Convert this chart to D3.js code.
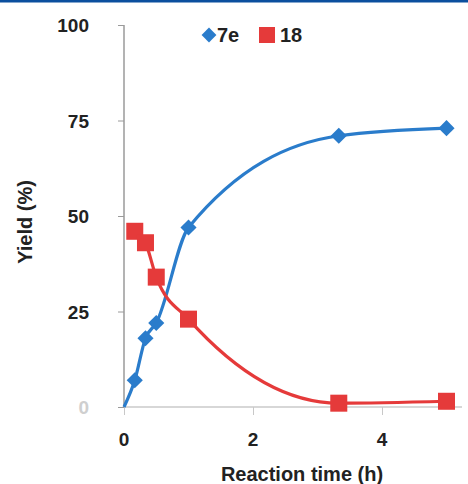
<!DOCTYPE html>
<html><head><meta charset="utf-8">
<script src="https://cdn.jsdelivr.net/npm/d3@7"></script>
<style>body{margin:0;background:#fff}svg{display:block}</style>
</head><body>
<svg id="c" width="468" height="484"></svg>
<script>
const series = ["7e", "18"];
const times7e = [0.167, 0.333, 0.5, 1, 3.33, 5];
const yield7e = [7, 18, 22, 47, 71, 73];
const times18 = [0.167, 0.333, 0.5, 1, 3.33, 5];
const yield18 = [46, 43, 34, 23, 1, 1.5];
const curveStart7e = [[0, 0]];
const yTicks = [0, 25, 50, 75, 100];
const xTicks = [0, 2, 4];
const colors = ["#2a7ccb", "#e53a3a"];

const FONT = "Liberation Sans, Arial, sans-serif";
const svg = d3.select("#c");
svg.append("rect").attr("x",0).attr("y",0).attr("width",468).attr("height",2.5).attr("fill","#0b4f9e");

const x = d3.scaleLinear().domain([0, 5]).range([124, 446.5]);
const y = d3.scaleLinear().domain([0, 100]).range([407, 25]);

// axes
const yAxis = svg.append("g").attr("transform","translate(124,0)")
  .call(d3.axisLeft(y).tickValues(yTicks).tickSize(6).tickFormat(""));
yAxis.select(".domain").attr("stroke","#9a9a9a").attr("stroke-width",1.5).attr("d","M0,25V407");
yAxis.selectAll(".tick line").attr("stroke","#9a9a9a");
const xAxis = svg.append("g").attr("transform","translate(0,407)")
  .call(d3.axisBottom(x).tickValues(xTicks).tickSize(8).tickFormat(""));
xAxis.select(".domain").attr("stroke","#b0b0b0").attr("stroke-width",1.2).attr("d","M124,0H462");
xAxis.selectAll(".tick line").attr("stroke","#c8c8c8");

svg.append("g").selectAll("text").data(yTicks).join("text")
  .attr("x",89).attr("y",d=>y(d)+7).attr("text-anchor","end")
  .attr("font-family",FONT).attr("font-size",19).attr("font-weight","bold")
  .attr("fill",d=>d===0?"#cfcfcf":"#222").text(d=>d);
svg.append("g").selectAll("text").data(xTicks).join("text")
  .attr("x",d=>x(d)).attr("y",446).attr("text-anchor","middle")
  .attr("font-family",FONT).attr("font-size",19).attr("font-weight","bold")
  .attr("fill","#222").text(d=>d);

svg.append("text").attr("x",302).attr("y",481).attr("text-anchor","middle")
  .attr("font-family",FONT).attr("font-size",20).attr("font-weight","bold")
  .attr("fill","#222").text("Reaction time (h)");
svg.append("text").attr("transform","translate(32,222) rotate(-90)").attr("text-anchor","middle")
  .attr("font-family",FONT).attr("font-size",20).attr("font-weight","bold")
  .attr("fill","#222").text("Yield (%)");

const line = d3.line().x(d=>x(d[0])).y(d=>y(d[1])).curve(d3.curveMonotoneX);
const pts7e = curveStart7e.concat(times7e.map((t,i)=>[t, yield7e[i]]));
const pts18 = times18.map((t,i)=>[t, yield18[i]]);

svg.append("path").attr("d", line(pts7e)).attr("fill","none").attr("stroke",colors[0]).attr("stroke-width",3.2);
svg.append("path").attr("d", line(pts18)).attr("fill","none").attr("stroke",colors[1]).attr("stroke-width",3.2);

svg.append("g").selectAll("path").data(times7e.map((t,i)=>[t,yield7e[i]])).join("path")
  .attr("d", d3.symbol().type(d3.symbolSquare).size(130))
  .attr("transform", d=>`translate(${x(d[0])},${y(d[1])}) rotate(45)`).attr("fill",colors[0]);
svg.append("g").selectAll("rect").data(pts18).join("rect")
  .attr("x", d=>x(d[0])-8.5).attr("y", d=>y(d[1])-8.5).attr("width",17).attr("height",17)
  .attr("fill",colors[1]);

// legend
const lg = svg.append("g");
lg.append("path").attr("d", d3.symbol().type(d3.symbolSquare).size(110)())
  .attr("transform","translate(209,35) rotate(45)").attr("fill",colors[0]);
lg.append("text").attr("x",217).attr("y",42).attr("font-family",FONT)
  .attr("font-size",20).attr("font-weight","bold").attr("fill","#222").text(series[0]);
lg.append("rect").attr("x",259).attr("y",27).attr("width",16).attr("height",16).attr("fill",colors[1]);
lg.append("text").attr("x",280).attr("y",42).attr("font-family",FONT)
  .attr("font-size",20).attr("font-weight","bold").attr("fill","#222").text(series[1]);
</script>
</body></html>
